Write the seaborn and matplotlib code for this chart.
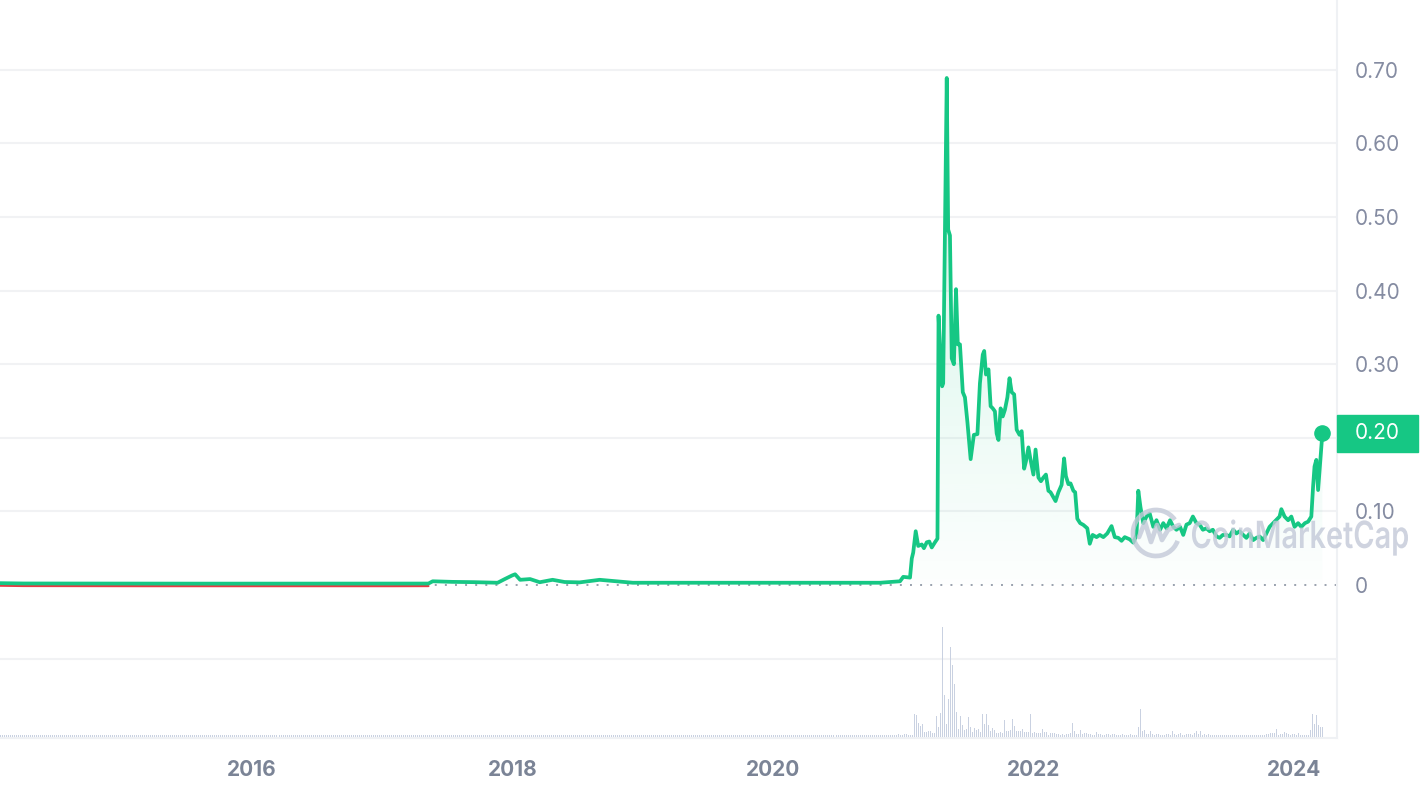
import numpy as np
import pandas as pd
import seaborn as sns
import matplotlib.pyplot as plt
import matplotlib.dates as mdates
from matplotlib.colors import to_rgb
from matplotlib.patches import Rectangle, PathPatch, Arc
from matplotlib.path import Path
from matplotlib.textpath import TextPath
from matplotlib.font_manager import FontProperties
from matplotlib.transforms import Affine2D, blended_transform_factory, offset_copy

# price history
dates = [
    "2014-01-13", "2014-04-01", "2014-09-01", "2015-03-01", "2015-09-01", "2016-03-01",
    "2016-09-01", "2017-02-01", "2017-05-10", "2017-05-22", "2017-07-15", "2017-09-15",
    "2017-11-20", "2017-12-10", "2017-12-31", "2018-01-08", "2018-01-22", "2018-02-05",
    "2018-02-19", "2018-03-18", "2018-04-23", "2018-05-27", "2018-07-08", "2018-09-02",
    "2018-10-20", "2018-12-04", "2019-06-01", "2020-01-01", "2020-07-07", "2020-10-27",
    "2020-12-22", "2020-12-31", "2021-01-19", "2021-01-24", "2021-01-28", "2021-02-04",
    "2021-02-11", "2021-02-21", "2021-02-27", "2021-03-07", "2021-03-14", "2021-03-21",
    "2021-03-30", "2021-04-06", "2021-04-09", "2021-04-15", "2021-04-19", "2021-04-22",
    "2021-05-02", "2021-05-06", "2021-05-11", "2021-05-16", "2021-05-22", "2021-05-28",
    "2021-06-02", "2021-06-08", "2021-06-16", "2021-06-22", "2021-06-29", "2021-07-08",
    "2021-07-17", "2021-07-27", "2021-08-03", "2021-08-11", "2021-08-15", "2021-08-20",
    "2021-08-27", "2021-09-02", "2021-09-08", "2021-09-14", "2021-09-19", "2021-09-24",
    "2021-09-30", "2021-10-06", "2021-10-12", "2021-10-19", "2021-10-25", "2021-10-31",
    "2021-11-07", "2021-11-14", "2021-11-22", "2021-11-28", "2021-12-05", "2021-12-10",
    "2021-12-17", "2021-12-23", "2021-12-31", "2022-01-06", "2022-01-14", "2022-01-21",
    "2022-01-28", "2022-02-04", "2022-02-11", "2022-02-17", "2022-02-25", "2022-03-03",
    "2022-03-11", "2022-03-20", "2022-03-27", "2022-04-01", "2022-04-08", "2022-04-14",
    "2022-04-22", "2022-04-27", "2022-05-03", "2022-05-11", "2022-05-20", "2022-05-31",
    "2022-06-07", "2022-06-15", "2022-06-26", "2022-07-05", "2022-07-15", "2022-07-26",
    "2022-08-07", "2022-08-16", "2022-08-26", "2022-09-04", "2022-09-13", "2022-09-27",
    "2022-10-07", "2022-10-16", "2022-10-21", "2022-10-27", "2022-11-04", "2022-11-13",
    "2022-11-22", "2022-12-02", "2022-12-11", "2022-12-21", "2022-12-30", "2023-01-08",
    "2023-01-18", "2023-01-27", "2023-02-05", "2023-02-15", "2023-02-24", "2023-03-05",
    "2023-03-14", "2023-03-23", "2023-04-02", "2023-04-11", "2023-04-20", "2023-04-30",
    "2023-05-09", "2023-05-18", "2023-05-28", "2023-06-06", "2023-06-15", "2023-06-25",
    "2023-07-04", "2023-07-14", "2023-07-23", "2023-08-01", "2023-08-11", "2023-08-20",
    "2023-08-29", "2023-09-08", "2023-09-17", "2023-09-26", "2023-10-06", "2023-10-15",
    "2023-10-24", "2023-11-07", "2023-11-21", "2023-11-26", "2023-12-05", "2023-12-15",
    "2023-12-24", "2024-01-02", "2024-01-12", "2024-01-21", "2024-01-31", "2024-02-09",
    "2024-02-18", "2024-02-23", "2024-02-27", "2024-03-03", "2024-03-08", "2024-03-20",
]
prices = [
    0.0025, 0.0020, 0.0019, 0.0018, 0.0018, 0.0018,
    0.0018, 0.0018, 0.0019, 0.0050, 0.0042, 0.0038,
    0.0030, 0.0080, 0.0130, 0.0145, 0.0070, 0.0075,
    0.0080, 0.0037, 0.0070, 0.0040, 0.0035, 0.0070,
    0.0050, 0.0030, 0.0030, 0.0030, 0.0030, 0.0030,
    0.0050, 0.0110, 0.0100, 0.0360, 0.0440, 0.0730,
    0.0530, 0.0550, 0.0500, 0.0580, 0.0590, 0.0510,
    0.0580, 0.0630, 0.3660, 0.3030, 0.2700, 0.2740,
    0.6890, 0.4830, 0.4750, 0.3080, 0.3000, 0.4020,
    0.3270, 0.3270, 0.2620, 0.2550, 0.2210, 0.1710,
    0.2040, 0.2050, 0.2740, 0.3130, 0.3180, 0.2860,
    0.2930, 0.2430, 0.2400, 0.2360, 0.2060, 0.1970,
    0.2400, 0.2290, 0.2380, 0.2550, 0.2810, 0.2620,
    0.2590, 0.2110, 0.2040, 0.2090, 0.1580, 0.1680,
    0.1870, 0.1700, 0.1500, 0.1840, 0.1460, 0.1410,
    0.1460, 0.1500, 0.1280, 0.1260, 0.1190, 0.1140,
    0.1260, 0.1360, 0.1720, 0.1480, 0.1370, 0.1380,
    0.1280, 0.1260, 0.0900, 0.0840, 0.0816, 0.0770,
    0.0560, 0.0680, 0.0650, 0.0680, 0.0650, 0.0700,
    0.0800, 0.0650, 0.0640, 0.0600, 0.0650, 0.0620,
    0.0575, 0.0680, 0.1280, 0.1060, 0.0840, 0.0930,
    0.0970, 0.0790, 0.0880, 0.0750, 0.0840, 0.0770,
    0.0880, 0.0790, 0.0750, 0.0790, 0.0680, 0.0820,
    0.0840, 0.0930, 0.0840, 0.0820, 0.0750, 0.0770,
    0.0730, 0.0750, 0.0660, 0.0640, 0.0680, 0.0680,
    0.0660, 0.0750, 0.0700, 0.0730, 0.0680, 0.0640,
    0.0700, 0.0610, 0.0640, 0.0660, 0.0610, 0.0700,
    0.0790, 0.0860, 0.0930, 0.1030, 0.0930, 0.0880,
    0.0930, 0.0790, 0.0840, 0.0790, 0.0840, 0.0860,
    0.0930, 0.1340, 0.1610, 0.1700, 0.1290, 0.2060,
]
red_until = "2017-05-15"   # stretch drawn below the opening price

# volume bars (relative heights)
vol_start, vol_end = "2014-01-25", "2024-03-20"
vol_early = [2.5] * 440
vol_late = [
    2, 2, 2, 2, 2, 2, 2, 2, 3, 2, 2, 3, 3, 2, 2, 2,
    23, 22, 14, 11, 13, 5, 5, 6, 6, 4, 4, 21, 10, 24, 110, 42, 13, 38, 90, 72,
    53, 25, 8, 21, 12, 7, 8, 20, 10, 5, 9, 7, 8, 5,
    23, 13, 23, 12, 6, 9, 7, 4, 4, 5, 4, 17, 6, 6, 7, 18, 11, 6, 6, 6,
    8, 5, 5, 5, 23, 4, 5, 4, 4, 4, 8, 5, 5, 2, 4, 4, 4, 3, 3, 2,
    3, 2, 3, 3, 4, 14, 6, 3, 3, 7, 3, 4, 4, 3, 3, 2, 2, 5, 3, 3,
    2, 2, 3, 3, 2, 3, 3, 2, 2, 2, 3, 2, 2, 2, 3, 2, 2, 2, 10, 28,
    6, 7, 3, 3, 6, 3, 2, 3, 3, 2, 2, 2, 3, 3, 2, 6, 3, 2, 3, 4,
    2, 2, 3, 3, 3, 2, 4, 6, 3, 6, 2, 3, 2, 3, 2, 2,
    2, 2, 2, 2, 2, 2, 2, 2, 2, 2, 2, 2, 2, 2, 2, 2, 2, 2, 2, 2, 2, 2, 2, 2, 2, 2,
    3, 3, 4, 4, 4, 8, 2, 3, 3, 5, 4, 3, 2, 3, 3, 2, 4, 2, 2, 2, 2, 2,
    7, 23, 13, 22, 12, 10, 10,
]

# the 0.20 slot is covered by the price tag
y_ticks = [-0.1, 0, 0.1, 0.2, 0.3, 0.4, 0.5, 0.6, 0.7]
y_labels = ["", "0", "0.10", "", "0.30", "0.40", "0.50", "0.60", "0.70"]
x_ticks = ["2016-01-01", "2018-01-01", "2020-01-01", "2022-01-01", "2024-01-01"]
x_labels = ["2016", "2018", "2020", "2022", "2024"]
x_range = ["2014-01-25", "2024-04-30"]
last_label = "0.20"

GREEN = "#16c784"
RED = "#ea3943"
GRID = "#f1f2f4"

df = pd.DataFrame({"date": pd.to_datetime(dates), "price": prices})
vol = vol_early + vol_late
vol_dates = pd.date_range(vol_start, vol_end, periods=len(vol))

sns.set_style("white")
plt.rcParams["font.family"] = ["Inter", "DejaVu Sans"]

W, H = 1420, 792
fig = plt.figure(figsize=(W / 100, H / 100), dpi=100)
ax = fig.add_axes([0, 54 / H, 1337 / W, 738 / H])

# gridlines, dotted opening line
for t in y_ticks:
    if t == 0:
        ax.axhline(t, color="#9aa1ae", lw=1.4, ls=(0, (1, 4.2)), zorder=1)
    else:
        ax.axhline(t, color=GRID, lw=1.5, zorder=0)

# red stretch sits just under the green line
red = df[df["date"] < pd.Timestamp(red_until)]
sns.lineplot(data=red, x="date", y="price", color=RED, lw=1.6, ax=ax, zorder=3,
             transform=offset_copy(ax.transData, fig=fig, y=-2.5, units="dots"))
sns.lineplot(data=df, x="date", y="price", color=GREEN, lw=2.7, ax=ax, zorder=4)

# gradient area under the line
poly = ax.fill_between(df["date"], df["price"], 0, color="none", lw=0)
grad = np.zeros((256, 1, 4))
grad[..., :3] = to_rgb(GREEN)
grad[:, 0, 3] = np.linspace(0.22, 0.01, 256)
x0, x1 = mdates.date2num(df["date"].iloc[0]), mdates.date2num(df["date"].iloc[-1])
im = ax.imshow(grad, extent=[x0, x1, 0, 0.7], aspect="auto", origin="upper", zorder=2)
im.set_clip_path(poly.get_paths()[0], transform=ax.transData)

# last price marker + tag
last_d, last_p = df["date"].iloc[-1], df["price"].iloc[-1]
ax.scatter([last_d], [last_p], s=120, color=GREEN, zorder=5, clip_on=False)
bt = blended_transform_factory(ax.transAxes, ax.transData)
ax.add_patch(Rectangle((1.0, last_p - 18.5 / 735.7), 81 / 1337, 37 / 735.7,
                       transform=bt, color=GREEN, clip_on=False, zorder=6))
ax.text(1 + 18 / 1337, last_p, last_label, transform=bt, color="white", fontsize=15,
        va="center", ha="left", zorder=7)

ax.set_xlim(pd.Timestamp(x_range[0]), pd.Timestamp(x_range[1]))
ax.set_ylim(-0.208, 0.795)
ax.set_xlabel("")
ax.set_ylabel("")
ax.yaxis.tick_right()
ax.set_yticks(y_ticks, y_labels)
ax.set_xticks(pd.to_datetime(x_ticks), x_labels)
ax.tick_params(axis="y", length=0, pad=13, labelsize=15, labelcolor="#858ca2")
ax.tick_params(axis="x", length=6, width=1.5, color="#eef0f3", pad=10,
               labelsize=15, labelcolor="#7b8496")
for lab in ax.get_xticklabels():
    lab.set_fontweight("bold")
for s in ["left", "top"]:
    ax.spines[s].set_visible(False)
for s in ["bottom", "right"]:
    ax.spines[s].set_color("#eff1f4")
    ax.spines[s].set_linewidth(1.5)

# volume panel: one 1px stroke per bar
ax_vol = fig.add_axes([0, 55 / H, 1337 / W, 140 / H], sharex=ax)
ax_vol.patch.set_visible(False)
ax_vol.vlines(vol_dates, 0, vol, color="#c9d1e1", lw=0.72, antialiased=False)
ax_vol.set_ylim(0, 140)
ax_vol.axis("off")
ax.set_xlim(pd.Timestamp(x_range[0]), pd.Timestamp(x_range[1]))

# watermark
fp = FontProperties(family="Inter", weight="semibold")
tp = TextPath((0, 0), "CoinMarketCap", size=40, prop=fp)
cap = TextPath((0, 0), "C", size=40, prop=fp).get_extents()
ext = tp.get_extents()
tr = Affine2D().translate(-ext.x0, 0).scale(216 / ext.width, 28 / cap.height).translate(1192, H - 548)
fig.add_artist(PathPatch(tp, transform=tr, fc="#c3c9d8", ec="none", alpha=0.8, zorder=8))
cx, cy = 1156, H - 533
fig.add_artist(Arc((cx, cy), 46, 46, theta1=35, theta2=340, lw=3.4, color="#c3c9d8",
                   alpha=0.8, transform=Affine2D(), zorder=8))
m = Path([(cx - 17, cy - 4), (cx - 11, cy + 11), (cx - 5, cy - 9), (cx + 1, cy + 8),
          (cx + 6, cy - 7), (cx + 12, cy + 3), (cx + 23, cy + 8)])
fig.add_artist(PathPatch(m, transform=Affine2D(), fc="none", ec="#c3c9d8", lw=3.4,
                         alpha=0.8, zorder=8, capstyle="round", joinstyle="round"))

fig.savefig("out.png", dpi=100)
